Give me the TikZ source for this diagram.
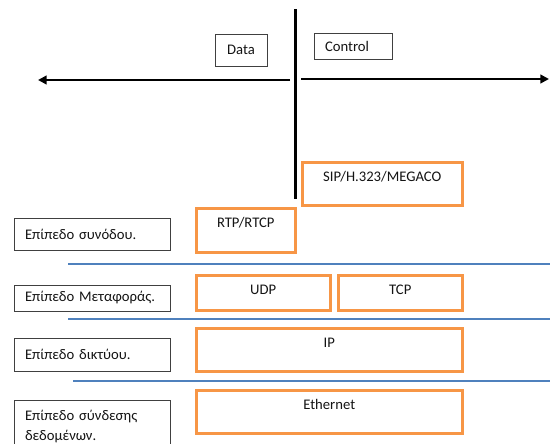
\documentclass[tikz,border=0pt]{standalone}
\usepackage{fontspec}
\setmainfont{Carlito}
\usetikzlibrary{arrows.meta, positioning}
\definecolor{layorange}{RGB}{247,150,70}
\definecolor{layblue}{RGB}{79,129,189}
\definecolor{laydark}{RGB}{64,64,64}
\definecolor{laytext}{RGB}{20,20,20}
\newdimen\px \px=0.75pt
\tikzset{
  tagbox/.style={rectangle, draw=laydark, line width=1\px, anchor=north west,
    font=\fontsize{11}{13}\selectfont, text=laytext},
  layerbox/.style={rectangle, draw=laydark, line width=1\px, anchor=north west,
    align=left, text width=134\px, inner xsep=11\px,
    font=\fontsize{11}{15}\selectfont, text=laytext},
  protobox/.style={rectangle, draw=layorange, line width=2.5\px, anchor=north west,
    inner sep=0pt},
  protolabel/.style={anchor=center, yshift=-15.5\px, inner sep=0pt,
    font=\fontsize{11}{13}\selectfont, text=laytext},
  flowarrow/.style={-{Triangle[length=6.5pt, width=6.5pt]}, line width=2.8\px, color=black},
  divider/.style={line width=2\px, color=layblue}
}

\begin{document}
\begin{tikzpicture}[x=0.75pt, y=-0.75pt]
  \clip (0,0) rectangle (550,443);

  % Data / Control split
  \coordinate (axtop) at (295,9);
  \coordinate (axbot) at (295,199);
  \draw[line width=3\px] (axtop) -- (axbot);
  \coordinate (lstart) at (290,80);
  \coordinate (lend) at (38,80);
  \coordinate (rstart) at (301,79);
  \coordinate (rend) at (549,79);
  \draw[flowarrow] (lstart) -- (lend);
  \draw[flowarrow] (rstart) -- (rend);
  \node[tagbox, minimum width=52\px, minimum height=32\px] (data) at (214.5,33.5) {Data};
  \node[tagbox, minimum height=26\px, text width=56\px, align=left, inner xsep=11\px] (control) at (313.5,32.5) {Control};

  % Protocol boxes
  \node[protobox, minimum width=160\px, minimum height=43\px,
    label={[protolabel]north:SIP/H.323/MEGACO}] (sip) at (301,161) {};
  \node[protobox, minimum width=99\px, minimum height=44\px,
    label={[protolabel]north:RTP/RTCP}] (rtp) at (195,207) {};
  \node[protobox, minimum width=134\px, minimum height=35\px,
    label={[protolabel]north:UDP}] (udp) at (195,274) {};
  \node[protobox, minimum width=124\px, minimum height=35\px,
    label={[protolabel]north:TCP}] (tcp) at (337,274) {};
  \node[protobox, minimum width=266\px, minimum height=43\px,
    label={[protolabel]north:IP}] (ip) at (195,327) {};
  \node[protobox, minimum width=266\px, minimum height=43\px,
    label={[protolabel]north:Ethernet}] (eth) at (195,389) {};

  % Layer names
  \node[layerbox, minimum height=32\px] (session) at (13.5,217.5) {Επίπεδο συνόδου.};
  \node[layerbox, minimum height=26\px] (transport) at (13.5,284.5) {Επίπεδο Μεταφοράς.};
  \node[layerbox, minimum height=33\px] (network) at (13.5,337.5) {Επίπεδο δικτύου.};
  \node[layerbox, minimum height=54\px] (datalink) at (13.5,399.5) {Επίπεδο σύνδεσης\\δεδομένων.};

  % Layer dividers
  \coordinate (d1a) at (68,264);
  \coordinate (d1b) at (550,264);
  \coordinate (d2a) at (68,319);
  \coordinate (d2b) at (550,319);
  \coordinate (d3a) at (73,381);
  \coordinate (d3b) at (550,381);
  \draw[divider] (d1a) -- (d1b);
  \draw[divider] (d2a) -- (d2b);
  \draw[divider] (d3a) -- (d3b);
\end{tikzpicture}
\end{document}
